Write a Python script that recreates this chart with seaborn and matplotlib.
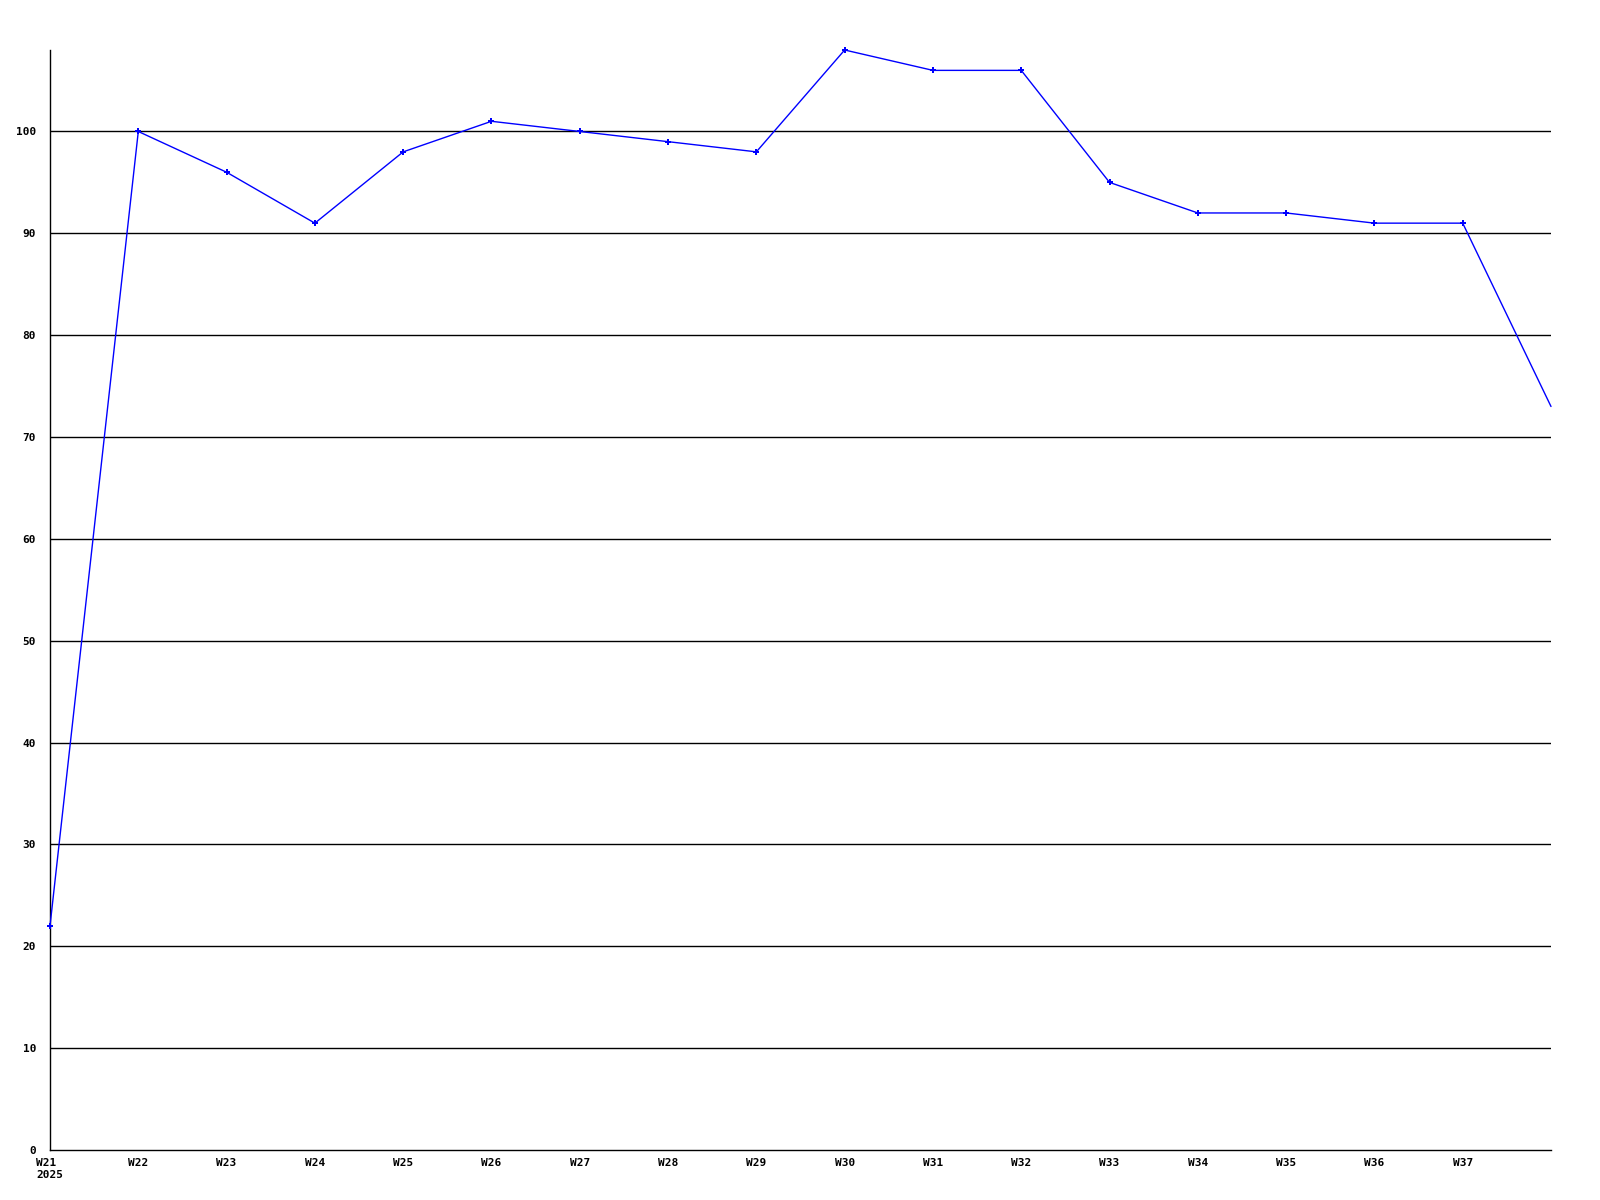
import matplotlib
matplotlib.use('Agg')
import matplotlib.pyplot as plt
import seaborn as sns

# Datos semanales
weeks = ['W21', 'W22', 'W23', 'W24', 'W25', 'W26', 'W27', 'W28', 'W29',
         'W30', 'W31', 'W32', 'W33', 'W34', 'W35', 'W36', 'W37', 'W38']
values = [22, 100, 96, 91, 98, 101, 100, 99, 98,
          108, 106, 106, 95, 92, 92, 91, 91, 73]
tick_labels = ['W21\n2025'] + weeks[1:17]
y_ticks = [0, 10, 20, 30, 40, 50, 60, 70, 80, 90, 100]

sns.set_style('white')
plt.rcParams['font.family'] = ['DejaVu Sans Mono']
plt.rcParams['text.color'] = 'black'
plt.rcParams['xtick.color'] = 'black'
plt.rcParams['ytick.color'] = 'black'

fig = plt.figure(figsize=(16, 12), dpi=100)
ax = fig.add_axes([50 / 1600, 50 / 1200, 1501 / 1600, 1100 / 1200])

x = list(range(len(weeks)))
sns.lineplot(x=x, y=values, ax=ax, color='#0000ff', linewidth=1,
             marker='P', markersize=4, markeredgewidth=0,
             markevery=list(range(17)), zorder=3, clip_on=False)

ax.set_xlim(0, len(weeks) - 1)
ax.set_ylim(0, 108)

for v in y_ticks[1:]:
    ax.axhline(v, color='black', linewidth=1, zorder=1)

ax.set_xticks(x[:17])
ax.set_xticklabels(tick_labels, fontsize=8, fontweight='bold',
                   multialignment='left', color='black')
ax.set_yticks(y_ticks)
ax.set_yticklabels([str(v) for v in y_ticks], fontsize=8, fontweight='bold',
                   color='black')
ax.tick_params(axis='both', length=0)
ax.tick_params(axis='y', pad=10)
ax.tick_params(axis='x', pad=6)

for s in ['top', 'right']:
    ax.spines[s].set_visible(False)
for s in ['left', 'bottom']:
    ax.spines[s].set_color('black')
    ax.spines[s].set_linewidth(1)

ax.set_xlabel('')
ax.set_ylabel('')

fig.savefig('out.png', dpi=100)
